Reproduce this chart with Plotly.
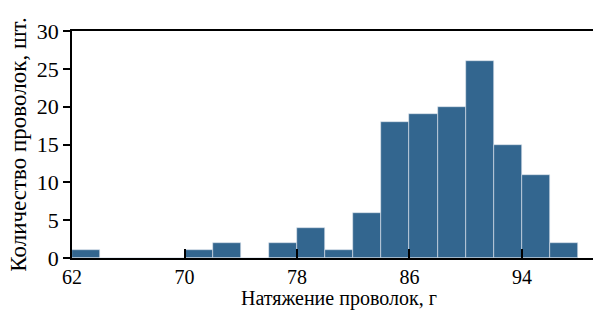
import plotly.graph_objects as go

bin_starts = [62, 64, 66, 68, 70, 72, 74, 76, 78, 80, 82, 84, 86, 88, 90, 92, 94, 96]
counts = [1, 0, 0, 0, 1, 2, 0, 2, 4, 1, 6, 18, 19, 20, 26, 15, 11, 2]
bin_width = 2
x_ticks = [62, 70, 78, 86, 94]
y_ticks = [0, 5, 10, 15, 20, 25, 30]
x_title = "Натяжение проволок, г"
y_title = "Количество проволок, шт."

fig = go.Figure()
fig.add_trace(go.Bar(
    x=[b + bin_width / 2 for b in bin_starts],
    y=counts,
    width=bin_width,
    marker=dict(color="#33668F", line=dict(color="#dfe6ee", width=0.6)),
))

SERIF = "Liberation Serif, Times New Roman, serif"
fig.update_layout(
    width=594, height=311,
    margin=dict(l=72, r=1, t=31, b=53),
    plot_bgcolor="white", paper_bgcolor="white",
    showlegend=False,
    bargap=0,
    font=dict(family=SERIF, color="black"),
    xaxis=dict(
        range=[62, 99.05], tickvals=x_ticks, ticks="inside", ticklen=9,
        tickcolor="black", tickwidth=1.5,
        showline=True, linecolor="black", linewidth=1.5, mirror=True,
        showgrid=False, zeroline=False,
        tickfont=dict(size=20, family=SERIF, color="black"),
    ),
    yaxis=dict(
        range=[0, 30], tickvals=y_ticks, ticks="outside", ticklen=7,
        tickcolor="black", tickwidth=1.5,
        showline=True, linecolor="black", linewidth=1.5,
        showgrid=False, zeroline=False,
        tickfont=dict(size=22, family=SERIF, color="black"),
        title=dict(text=y_title, standoff=4,
                   font=dict(size=23, family=SERIF, color="black")),
    ),
    annotations=[dict(
        text=x_title, xref="paper", yref="paper", x=0.512, y=-0.178,
        xanchor="center", yanchor="middle", showarrow=False,
        font=dict(size=20, family=SERIF, color="black"),
    )],
)
fig.write_html("out.html", config={"displayModeBar": False})

with open("out.html", encoding="utf-8") as f:
    html = f.read()
html = html.replace("<head>", "<head><style>html,body{margin:0;padding:0;overflow:hidden;}</style>", 1)
with open("out.html", "w", encoding="utf-8") as f:
    f.write(html)
